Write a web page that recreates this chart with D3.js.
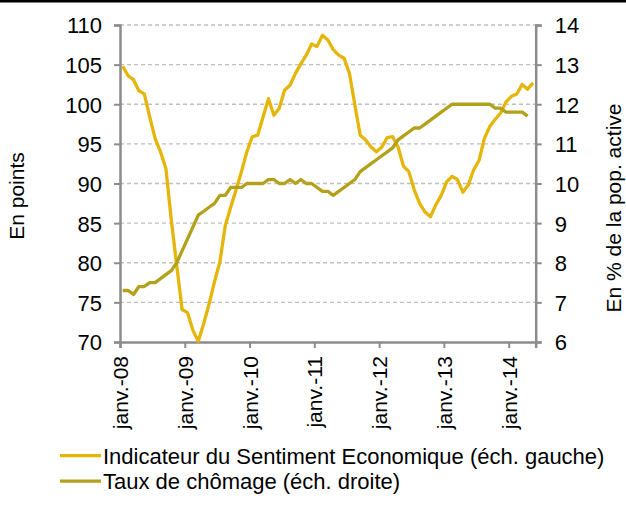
<!DOCTYPE html>
<html>
<head>
<meta charset="utf-8">
<script src="https://cdn.jsdelivr.net/npm/d3@7"></script>
<style>
  body { margin: 0; background: #fff; }
  svg { display: block; font-family: "Liberation Sans", Arial, sans-serif; }
</style>
</head>
<body>
<div id="chart"></div>
<script>
// monthly values, janv. 2008 -> mai 2014
let esi = [
  104.8, 103.6, 103.1, 101.7, 101.3, 98.4, 95.7, 94.0, 91.9, 85.4, 79.7, 74.1,
  73.7, 71.5, 70.1, 72.3, 74.8, 77.6, 80.1, 84.7, 87.0, 89.2, 91.5, 94.0,
  95.9, 96.1, 98.4, 100.7, 98.6, 99.5, 101.8, 102.4, 103.9, 105.1, 106.2, 107.6,
  107.3, 108.7, 108.1, 106.9, 106.2, 105.8, 103.9, 99.9, 96.1, 95.5, 94.6, 94.0,
  94.6, 95.8, 95.9, 94.6, 92.2, 91.5, 89.2, 87.5, 86.4, 85.8, 87.3, 88.5,
  90.2, 90.9, 90.5, 88.9, 89.8, 91.7, 92.9, 95.7, 97.2, 98.1, 98.9, 100.3,
  101.0, 101.3, 102.5, 101.9, 102.7
];
let chomage = [
  7.3, 7.3, 7.2, 7.4, 7.4, 7.5, 7.5, 7.6, 7.7, 7.8, 8.0, 8.3,
  8.6, 8.9, 9.2, 9.3, 9.4, 9.5, 9.7, 9.7, 9.9, 9.9, 9.9, 10.0,
  10.0, 10.0, 10.0, 10.1, 10.1, 10.0, 10.0, 10.1, 10.0, 10.1, 10.0, 10.0,
  9.9, 9.8, 9.8, 9.7, 9.8, 9.9, 10.0, 10.1, 10.3, 10.4, 10.5, 10.6,
  10.7, 10.8, 10.9, 11.1, 11.2, 11.3, 11.4, 11.4, 11.5, 11.6, 11.7, 11.8,
  11.9, 12.0, 12.0, 12.0, 12.0, 12.0, 12.0, 12.0, 12.0, 11.9, 11.9, 11.8,
  11.8, 11.8, 11.8, 11.7
];
let nMonths = 77;
let tickMonths = [0, 12, 24, 36, 48, 60, 72];
let tickLabels = ["janv.-08", "janv.-09", "janv.-10", "janv.-11", "janv.-12", "janv.-13", "janv.-14"];
let leftTicks = [70, 75, 80, 85, 90, 95, 100, 105, 110];
let rightTicks = [6, 7, 8, 9, 10, 11, 12, 13, 14];
let seriesNames = ["Indicateur du Sentiment Economique (éch. gauche)", "Taux de chômage (éch. droite)"];

let colYellow = "#E5B50A",
  colOlive = "#B3A01B",
  axisCol = "#8C8C8C",
  gridCol = "#C0C0C0";

let svg = d3
  .select("#chart")
  .append("svg")
  .attr("width", 626)
  .attr("height", 505);

let plotLeft = 120,
  plotRight = 535.7,
  plotTop = 25,
  plotBottom = 342,
  fs = 22,
  fsRot = 21;

// black rule on top
svg.append("rect").attr("x", 0).attr("y", 0).attr("width", 626).attr("height", 2.5).attr("fill", "#000");

// scales
let xScale = d3.scaleLinear().domain([0, nMonths]).range([plotLeft, plotRight]);
let yLeft = d3.scaleLinear().domain([70, 110]).range([plotBottom, plotTop]);
let yRight = d3.scaleLinear().domain([6, 14]).range([plotBottom, plotTop]);

// grid
svg
  .append("g")
  .selectAll("line")
  .data(leftTicks.slice(1))
  .enter()
  .append("line")
  .attr("x1", plotLeft)
  .attr("x2", plotRight)
  .attr("y1", (d) => yLeft(d))
  .attr("y2", (d) => yLeft(d))
  .attr("stroke", gridCol)
  .attr("stroke-width", 1.3)
  .attr("stroke-dasharray", "4,3");

// axes
function styleAxis(g) {
  g.select(".domain").attr("stroke", axisCol).attr("stroke-width", 2.5);
  g.selectAll(".tick line").attr("stroke", axisCol).attr("stroke-width", 2);
  g.selectAll(".tick text").attr("fill", "#000").style("font-size", fs + "px");
}

svg
  .append("g")
  .attr("transform", "translate(" + plotLeft + ",0)")
  .call(d3.axisLeft(yLeft).tickValues(leftTicks).tickSizeOuter(0).tickSize(6).tickPadding(12))
  .call(styleAxis)
  .call((g) => g.selectAll(".tick text").attr("dy", "0.36em"));

svg
  .append("g")
  .attr("transform", "translate(" + plotRight + ",0)")
  .call(d3.axisRight(yRight).tickValues(rightTicks).tickSizeOuter(0).tickSize(6).tickPadding(13))
  .call(styleAxis)
  .call((g) => g.selectAll(".tick text").attr("dy", "0.36em"));

let xAxis = svg
  .append("g")
  .attr("transform", "translate(0," + plotBottom + ")")
  .call(
    d3
      .axisBottom(xScale)
      .tickValues(tickMonths)
      .tickFormat((d, i) => tickLabels[i])
      .tickSizeOuter(0)
      .tickSize(6)
  )
  .call(styleAxis);

xAxis
  .selectAll(".tick text")
  .style("font-size", fsRot + "px")
  .attr("text-anchor", "end")
  .attr("transform", "rotate(-90)")
  .attr("x", -14)
  .attr("y", 0)
  .attr("dy", "0.36em")
  .attr("dx", 0);

// lines
let esiLine = d3
  .line()
  .x((d, i) => xScale(i + 0.5))
  .y((d) => yLeft(d));
let chomLine = d3
  .line()
  .x((d, i) => xScale(i + 0.5))
  .y((d) => yRight(d));

svg
  .append("path")
  .datum(esi)
  .attr("d", esiLine)
  .attr("fill", "none")
  .attr("stroke", colYellow)
  .attr("stroke-width", 3.3)
  .attr("stroke-linejoin", "round");

svg
  .append("path")
  .datum(chomage)
  .attr("d", chomLine)
  .attr("fill", "none")
  .attr("stroke", colOlive)
  .attr("stroke-width", 3.3)
  .attr("stroke-linejoin", "round");

// axis titles
svg
  .append("text")
  .attr("transform", "translate(24,196) rotate(-90)")
  .attr("text-anchor", "middle")
  .style("font-size", fsRot + "px")
  .text("En points");

svg
  .append("text")
  .attr("transform", "translate(621,208) rotate(-90)")
  .attr("text-anchor", "middle")
  .style("font-size", fsRot + "px")
  .text("En % de la pop. active");

// legend
let legend = svg
  .append("g")
  .selectAll("g")
  .data(seriesNames)
  .enter()
  .append("g")
  .attr("transform", (d, i) => "translate(0," + (455.7 + i * 25.5) + ")");

legend
  .append("line")
  .attr("x1", 60)
  .attr("x2", 101)
  .attr("stroke", (d, i) => (i == 0 ? colYellow : colOlive))
  .attr("stroke-width", 3.3);

legend
  .append("text")
  .attr("x", 103)
  .attr("dy", "0.36em")
  .style("font-size", fs + "px")
  .text((d) => d);
</script>
</body>
</html>
